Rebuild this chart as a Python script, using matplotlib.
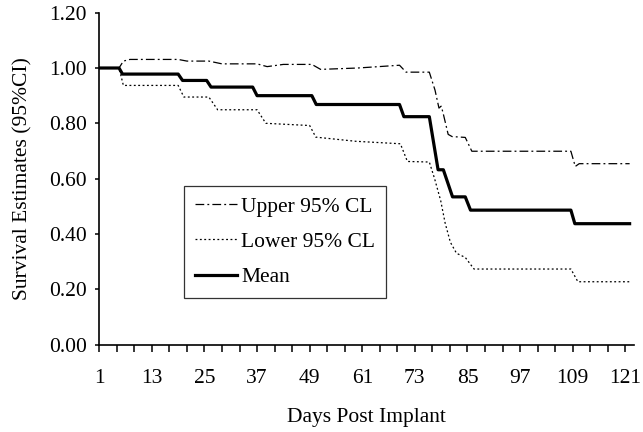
import matplotlib
matplotlib.use("Agg")
import matplotlib.pyplot as plt
import numpy as np

plt.rcParams['font.family'] = 'Liberation Serif'

# Kaplan-Meier style estimates, (day, value) knots
mean_days = [1, 5.5, 6.3, 19, 20, 25.5, 26.5, 36, 37, 49.5, 50.5, 69.5, 70.5,
             76.3, 78.3, 79.5, 81.6, 84.5, 85.7, 108.6, 109.5, 122]
mean_vals = [1.0, 1.0, 0.978, 0.978, 0.955, 0.955, 0.931, 0.931, 0.90, 0.90,
             0.868, 0.868, 0.824, 0.824, 0.632, 0.632, 0.534, 0.534, 0.486,
             0.486, 0.437, 0.437]

upper_days = [1, 5.5, 6.5, 8, 19, 21, 26, 29, 37, 39.3, 43, 49.5, 51.5, 60,
              69.5, 71, 76.3, 77.6, 78.5, 79.0, 79.4, 80.6, 81.5, 84.5, 86,
              108.6, 109.6, 110.5, 122]
upper_vals = [1.0, 1.0, 1.025, 1.031, 1.031, 1.025, 1.025, 1.015, 1.015, 1.005,
              1.013, 1.013, 0.995, 1.0, 1.01, 0.985, 0.985, 0.92, 0.855, 0.862,
              0.84, 0.76, 0.752, 0.749, 0.699, 0.699, 0.644, 0.654, 0.654]

lower_days = [1, 5.5, 6.5, 19, 20.3, 26, 28, 37, 39, 49, 50.4, 59.5, 69.7,
              71.3, 76.3, 77.5, 78.9, 79.9, 81.1, 82.5, 84.5, 86.5, 108.6,
              110.2, 122]
lower_vals = [1.0, 1.0, 0.937, 0.937, 0.895, 0.895, 0.849, 0.849, 0.80, 0.792,
              0.75, 0.735, 0.726, 0.662, 0.66, 0.60, 0.52, 0.44, 0.37, 0.33,
              0.315, 0.273, 0.273, 0.227, 0.227]

fig = plt.figure(figsize=(6.43, 4.32), dpi=100)
ax = fig.add_axes([0.1544, 0.2025, 0.8316, 0.7681])

ax.plot(upper_days, upper_vals, color='black', lw=0.9,
        linestyle=(0, (7, 2.5, 1.5, 2.5)), label='Upper 95% CL')
ax.plot(lower_days, lower_vals, color='black', lw=0.9,
        linestyle=(0, (1.5, 2)), label='Lower 95% CL')
ax.plot(mean_days, mean_vals, color='black', lw=2.3, label='Mean')

ax.set_xlim(1, 123)
ax.set_ylim(0, 1.2)
ax.set_xticks(np.arange(1, 122, 12))
ax.set_xticks(np.arange(1, 122, 4), minor=True)
ax.set_yticks(np.arange(0, 1.21, 0.2))
ax.set_yticklabels([f"{v:.2f}" for v in np.arange(0, 1.21, 0.2)])

for s in ['top', 'right']:
    ax.spines[s].set_visible(False)
for s in ['left', 'bottom']:
    ax.spines[s].set_linewidth(1.2)

ax.tick_params(axis='x', which='both', direction='out', length=4.8,
               width=1.1, labelsize=15.5, pad=13)
ax.tick_params(axis='y', direction='out', length=3, width=1.1,
               labelsize=15.5, pad=6)

ax.set_xlabel('Days Post Implant', fontsize=15.5, labelpad=14)
ax.set_ylabel('Survival Estimates (95%CI)', fontsize=15.5, labelpad=12)

leg = ax.legend(loc='upper left', bbox_to_anchor=(184 / 643, 1 - 186 / 432),
                bbox_transform=fig.transFigure, fontsize=15.5, frameon=True,
                fancybox=False, borderaxespad=0, borderpad=0.5,
                handlelength=1.95, handletextpad=0.2, labelspacing=0.7)
leg.get_frame().set_edgecolor('black')
leg.get_frame().set_linewidth(0.9)

fig.savefig('out.png', dpi=100, facecolor='white')
